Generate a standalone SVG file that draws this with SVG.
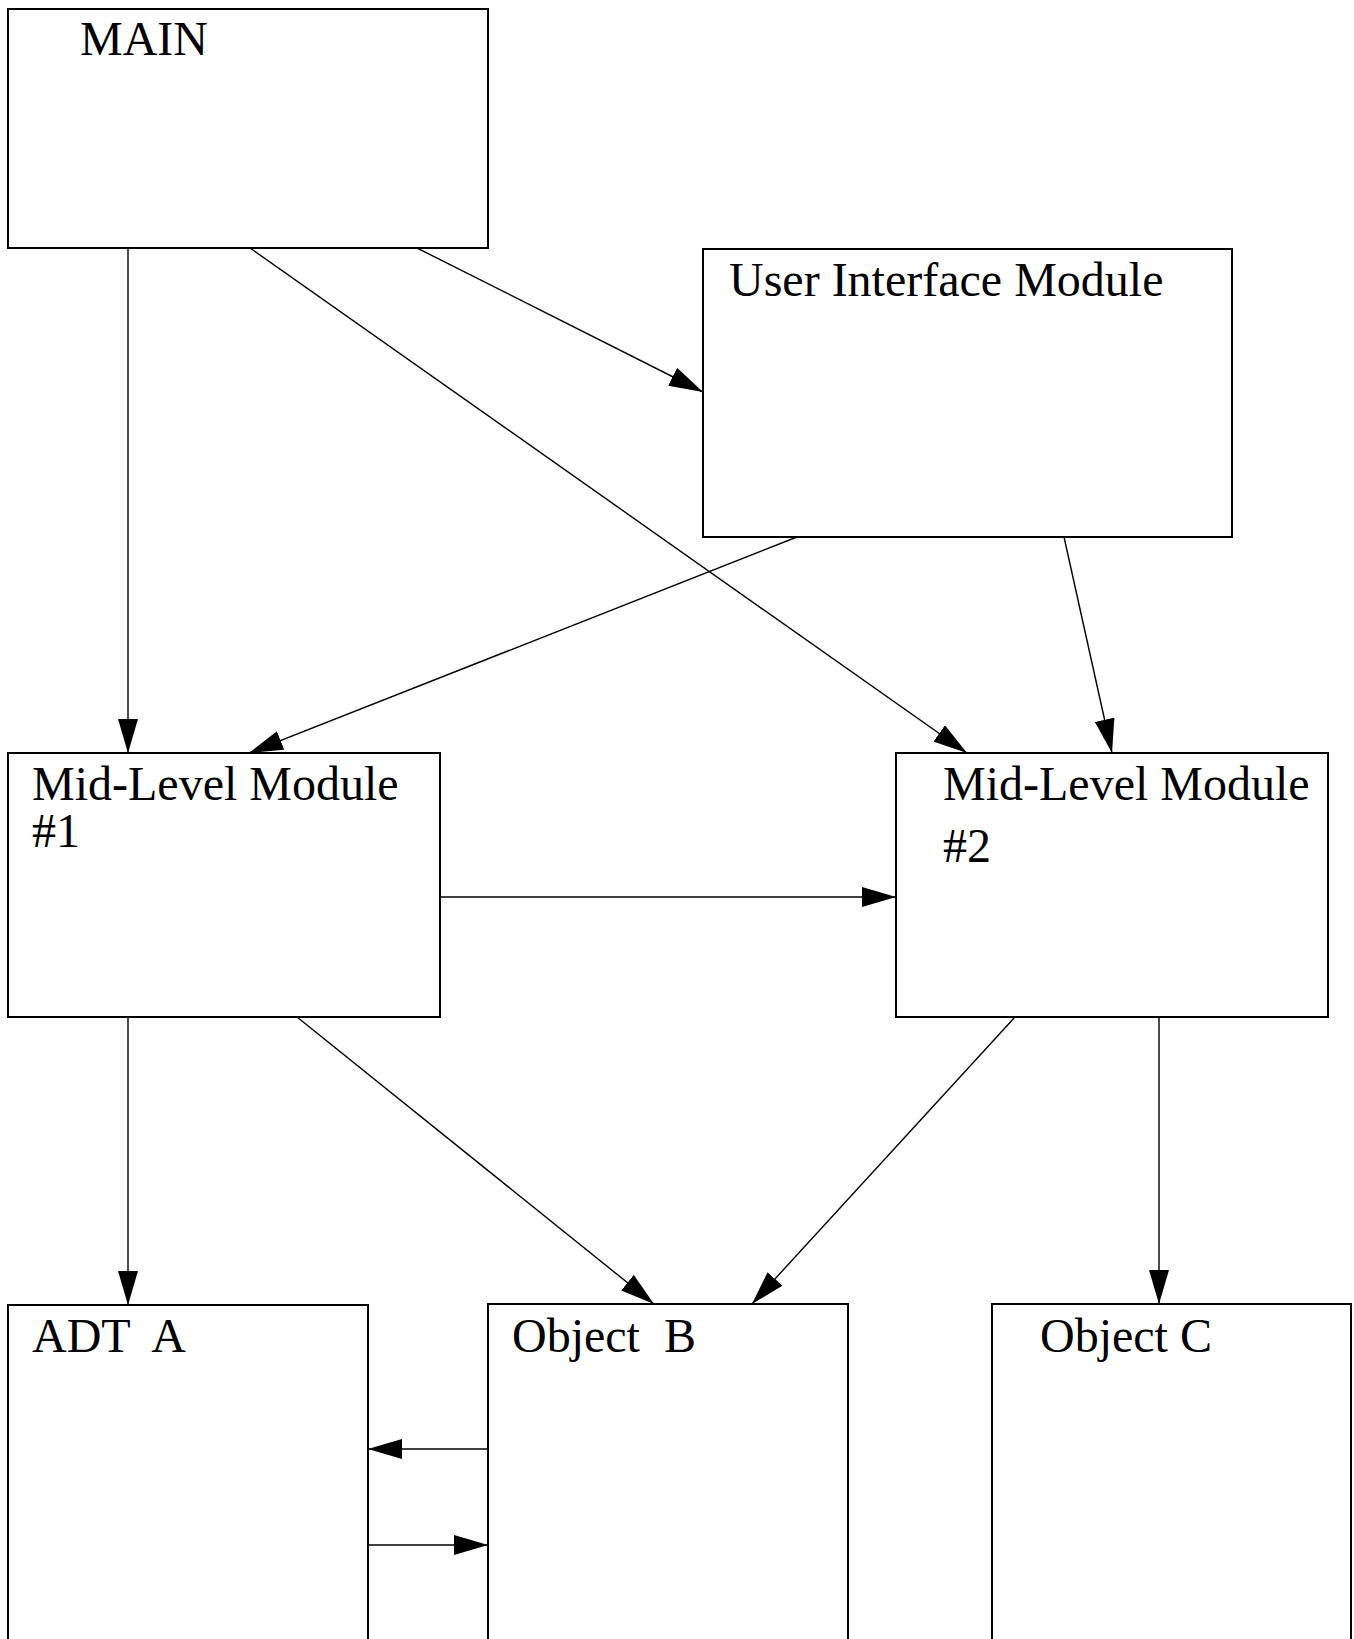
<svg xmlns="http://www.w3.org/2000/svg" width="1354" height="1639" viewBox="0 0 1354 1639">
  <style>
    .box { fill: none; stroke: #000; stroke-width: 2; }
    .label { font-family: "Liberation Serif", "Times New Roman", serif; font-size: 48px; fill: #000; white-space: pre; }
    .edge { stroke: #000; stroke-width: 1.4; fill: none; marker-end: url(#arrow); }
  </style>
  <defs>
    <marker id="arrow" markerUnits="userSpaceOnUse" markerWidth="34" markerHeight="20" refX="34" refY="10" orient="auto" viewBox="0 0 34 20">
      <path d="M0,0 L34,10 L0,20 Z" fill="#000"/>
    </marker>
  </defs>
  <rect width="1354" height="1639" fill="#fff"/>

  <!-- module boxes -->
  <g id="main">
    <rect class="box" x="8" y="9" width="480" height="239"/>
    <text class="label" x="80" y="55">MAIN</text>
  </g>
  <g id="ui-module">
    <rect class="box" x="703" y="249" width="529" height="288"/>
    <text class="label" x="729" y="296">User Interface Module</text>
  </g>
  <g id="mid-level-1">
    <rect class="box" x="8" y="753" width="432" height="264"/>
    <text class="label" x="32" y="800">Mid-Level Module</text>
    <text class="label" x="32" y="847">#1</text>
  </g>
  <g id="mid-level-2">
    <rect class="box" x="896" y="753" width="432" height="264"/>
    <text class="label" x="943" y="800">Mid-Level Module</text>
    <text class="label" x="943" y="862">#2</text>
  </g>
  <g id="adt-a">
    <path class="box" d="M8,1660 V1305 H368 V1660"/>
    <text class="label" x="32" y="1352" xml:space="preserve">ADT  A</text>
  </g>
  <g id="object-b">
    <path class="box" d="M488,1660 V1304 H848 V1660"/>
    <text class="label" x="512" y="1352" xml:space="preserve">Object  B</text>
  </g>
  <g id="object-c">
    <path class="box" d="M992,1660 V1304 H1351 V1660"/>
    <text class="label" x="1040" y="1352">Object C</text>
  </g>

  <!-- calls between modules -->
  <g id="connectors">
    <line class="edge" x1="128" y1="248" x2="128" y2="753"/>
    <line class="edge" x1="250" y1="248" x2="967" y2="753"/>
    <line class="edge" x1="417" y1="248" x2="703" y2="392"/>
    <line class="edge" x1="797" y1="537" x2="249" y2="753"/>
    <line class="edge" x1="1064" y1="537" x2="1112" y2="753"/>
    <line class="edge" x1="440" y1="897" x2="896" y2="897"/>
    <line class="edge" x1="128" y1="1017" x2="128" y2="1305"/>
    <line class="edge" x1="297" y1="1017" x2="654" y2="1304"/>
    <line class="edge" x1="1015" y1="1017" x2="752" y2="1304"/>
    <line class="edge" x1="1159" y1="1017" x2="1159" y2="1304"/>
    <line class="edge" x1="488" y1="1449" x2="368" y2="1449"/>
    <line class="edge" x1="368" y1="1545" x2="488" y2="1545"/>
  </g>
</svg>
